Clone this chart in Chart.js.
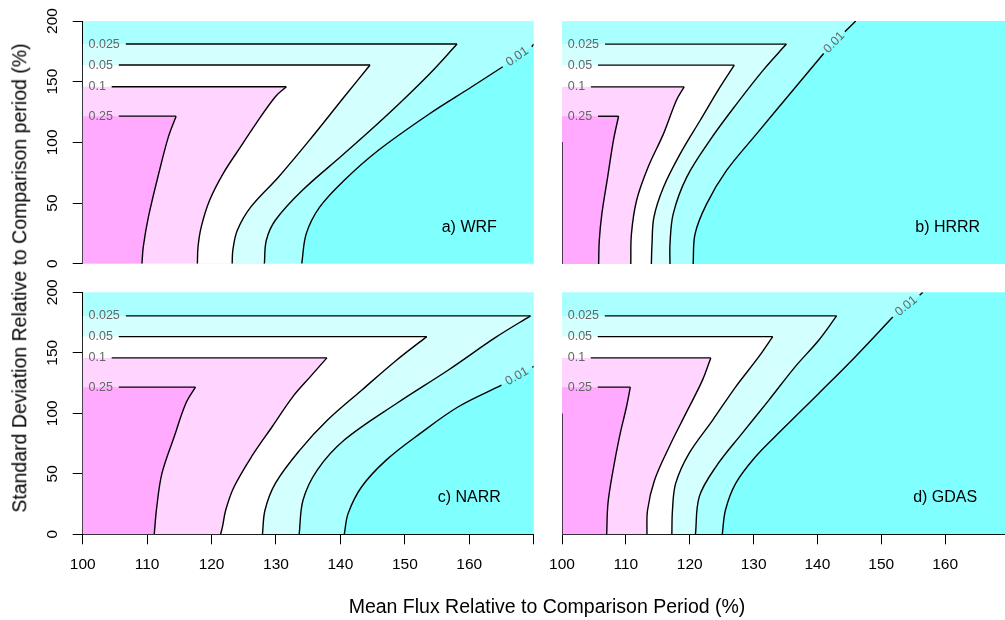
<!DOCTYPE html>
<html>
<head>
<meta charset="utf-8">
<script src="https://cdn.jsdelivr.net/npm/chart.js@4.4.1/dist/chart.umd.min.js"></script>
<style>
  body { margin: 0; width: 1005px; height: 620px; overflow: hidden; background: #fff; position: relative;
         font-family: "Liberation Sans", Arial, sans-serif; }
  canvas { position: absolute; }
  .title { position: absolute; white-space: nowrap; font-size: 19.5px; line-height: 1; color: #000; }
  #ytitle { left: 20px; top: 278px; transform: translate(-50%, -50%) rotate(-90deg); }
  #xtitle { left: 547px; top: 607px; transform: translate(-50%, -50%); }
</style>
</head>
<body>
<canvas id="panelA" width="560" height="280" style="left:0;top:0"></canvas>
<canvas id="panelB" width="490" height="280" style="left:530px;top:0"></canvas>
<canvas id="panelC" width="560" height="350" style="left:0;top:270px"></canvas>
<canvas id="panelD" width="490" height="350" style="left:530px;top:270px"></canvas>
<div class="title" id="ytitle">Standard Deviation Relative to Comparison period (%)</div>
<div class="title" id="xtitle">Mean Flux Relative to Comparison Period (%)</div>
<script>
// contour levels, inner to outer
const levels = ['0.25', '0.1', '0.05', '0.025', '0.01'];

// contours: [mean flux %, std dev %], from the bottom up to the corner
const wrf25  = [[109.2,0],[109.4,13.8],[110.2,38.5],[111.8,74.3],[113.3,104.5],[114.5,121.6]];
const wrf10  = [[117.8,0],[117.9,13.8],[118.4,30.3],[119.7,52.3],[121.8,74.3],[124.5,96.3],[126.9,115.5],[129.9,137.6],[131.6,145.8]];
const wrf05  = [[123.2,0],[123.3,11],[124.0,27.5],[126.1,46.8],[130.4,71.5],[135.2,101.8],[140.6,137.6],[144.6,163.7]];
const wrf025 = [[128.2,0],[128.5,19.3],[129.9,35.8],[134.1,60.5],[140.6,90.8],[147.5,123.8],[153.9,156.8],[158.1,181.0]];
const wrf01  = [[134.0,0],[134.7,24.8],[136.8,46.8],[140.6,68.8],[145.9,93.5],[153.9,123.8],[160.4,145.8],[165.2,162.3]];
const wrf01b = [[169.7,178.8],[170,181]];

const hrrr25  = [[105.7,0],[105.8,19.3],[106.2,41.3],[107.1,71.5],[108.0,101.8],[108.8,121.6]];
const hrrr10  = [[110.7,0],[110.8,24.8],[111.6,52.3],[113.4,79.8],[115.8,107.3],[117.8,134.8],[119.0,145.8]];
const hrrr05  = [[113.9,0],[114.0,16.5],[114.3,38.5],[115.8,63.3],[118.4,90.8],[121.5,118.3],[124.6,145.8],[126.8,163.7]];
const hrrr025 = [[116.8,0],[116.8,16.5],[117.3,41.3],[119.4,71.5],[123.0,101.8],[127.2,132.0],[131.3,159.6],[134.9,181.0]];
const hrrr01  = [[120.4,0],[120.7,24.8],[122.5,49.5],[125.6,77.0],[130.3,107.3],[135.5,140.3],[140.7,173.3]];
const hrrr01b = [[144.0,191.2],[145.7,200]];
const hrrrEdge = [[100,0],[100,100.4]];

const narr25  = [[111.1,0],[111.5,22.8],[112.3,50.3],[114.2,80.6],[116.0,108.1],[117.5,121.6]];
const narr10  = [[121.4,0],[121.7,6.3],[122.2,20.1],[123.5,39.3],[126.2,64.1],[129.4,88.9],[132.6,113.6],[135.3,130.1],[137.9,145.8]];
const narr05  = [[127.9,0],[128.3,20.1],[129.9,42.1],[133.7,69.6],[138.0,94.4],[143.3,119.1],[148.7,143.9],[153.4,163.4]];
const narr025 = [[133.6,0],[134.2,28.3],[136.4,53.1],[140.6,77.9],[148.7,108.1],[156.7,135.6],[164.2,163.1],[169.5,180.5]];
const narr01  = [[140.6,0],[141.2,17.3],[143.3,39.3],[147.1,61.3],[152.4,83.4],[158.3,105.4],[165.0,123.2]];
const narr01b = [[169.8,137.8],[170,139]];

const gdas25  = [[107.0,0],[107.2,25.6],[108.0,53.1],[109.0,80.6],[110.1,105.4],[110.7,121.6]];
const gdas10  = [[113.3,0],[113.4,20.1],[114.5,44.8],[116.8,72.4],[119.4,99.9],[122.0,127.4],[123.3,145.8]];
const gdas05  = [[117.2,0],[117.3,20.1],[117.8,42.1],[119.9,66.9],[123.6,94.4],[127.2,121.9],[130.8,146.6],[133.0,163.4]];
const gdas025 = [[120.9,0],[121.5,31.1],[124.1,55.8],[128.2,83.4],[132.4,110.9],[136.5,138.4],[140.2,160.4],[143.0,180.5]];
const gdas01  = [[125.1,0],[125.6,20.1],[127.2,42.1],[130.3,64.1],[134.4,86.1],[140.2,116.4],[145.9,146.6],[151.8,179.6]];
const gdas01b = [[156.0,197.5],[156.5,200]];
const gdasEdge = [[100,0],[100,99.9]];

const xTicks = [100, 110, 120, 130, 140, 150, 160, 170];
const yTicks = [0, 50, 100, 150, 200];

// fill for the area inside each level (last one = beyond 0.01), plus the in-between colour
const fillColors = ['#FFAAFF', '#FFD4FF', '#FFFFFF', '#D4FFFF', '#80FFFF'];
const bgColor = '#AAFFFF';
// where each horizontal contour segment resumes after its label
const lineStart = [105.6, 104.5, 105.6, 106.7];
const labelX = 100.9;
const TENSION = 0.35;
const FONT = '"Liberation Sans", Arial, sans-serif';
Chart.defaults.font.family = FONT;

const panels = [
  { id: 'panelA', name: 'a) WRF',  curves: [wrf25, wrf10, wrf05, wrf025],   outer: [wrf01, wrf01b],   edge: null,
    showX: false, showY: true,  pad: { left: 0,  top: 21,   right: 26.3, bottom: 16 } },
  { id: 'panelB', name: 'b) HRRR', curves: [hrrr25, hrrr10, hrrr05, hrrr025], outer: [hrrr01, hrrr01b], edge: hrrrEdge,
    showX: false, showY: false, pad: { left: 32, top: 21,   right: 8,    bottom: 16 } },
  { id: 'panelC', name: 'c) NARR', curves: [narr25, narr10, narr05, narr025], outer: [narr01, narr01b], edge: null,
    showX: true,  showY: true,  pad: { left: 0,  top: 22.3, right: 26.3, bottom: 45.7 } },
  { id: 'panelD', name: 'd) GDAS', curves: [gdas25, gdas10, gdas05, gdas025], outer: [gdas01, gdas01b], edge: gdasEdge,
    showX: true,  showY: false, pad: { left: 32, top: 22.3, right: 8,    bottom: 45.7 } }
];

const xMin = xTicks[0], xMax = xTicks[xTicks.length - 1];
const yMin = yTicks[0], yMax = yTicks[yTicks.length - 1];

function pts(arr) { return arr.map(p => ({ x: p[0], y: p[1] })); }
const first = a => a[0];
const last = a => a[a.length - 1];

// repeating a vertex keeps the spline corner sharp there
function area(arr, color) {
  return { data: pts(arr), backgroundColor: color, borderColor: 'transparent', borderWidth: 0,
           fill: 'shape', tension: TENSION, pointRadius: 0 };
}
function line(arr, tension) {
  return { data: pts(arr), borderColor: '#000', borderWidth: 1.4, fill: false, tension: tension, pointRadius: 0 };
}

function buildDatasets(p) {
  const ds = [];
  const [o1, o2] = p.outer;
  // region beyond the 0.01 contour
  const outer = [first(o1)].concat(o1, [last(o1), first(o2)], o2, [last(o2)]);
  if (last(o2)[1] >= yMax) outer.push([xMax, yMax], [xMax, yMax]);
  outer.push([xMax, yMin], [xMax, yMin], first(o1));
  ds.push(area(outer, fillColors[4]));
  // nested regions, widest first
  for (let i = 3; i >= 0; i--) {
    const c = p.curves[i];
    const apex = last(c);
    ds.push(area([[xMin, yMin], first(c)].concat(c, [apex, [xMin, apex[1]]]), fillColors[i]));
  }
  // contour lines
  p.curves.forEach((c, i) => {
    const apex = last(c);
    ds.push(line(c, TENSION));
    ds.push(line([apex, [lineStart[i], apex[1]]], 0));
  });
  ds.push(line(o1, TENSION));
  ds.push(line(o2, 0));
  if (p.edge) ds.push(line(p.edge, 0));
  // paint in array order
  ds.forEach((d, i) => { d.order = ds.length - i; });
  return ds;
}

function labelPlugin(p) {
  return {
    id: 'labels_' + p.id,
    beforeDraw(chart) {
      const { ctx, chartArea: a } = chart;
      ctx.save();
      ctx.fillStyle = bgColor;
      ctx.fillRect(a.left, a.top, a.right - a.left, a.bottom - a.top);
      ctx.restore();
    },
    afterDatasetsDraw(chart) {
      const { ctx, scales: { x, y } } = chart;
      ctx.save();
      ctx.font = '12.5px ' + FONT;
      ctx.fillStyle = '#666';
      ctx.textBaseline = 'middle';
      ctx.textAlign = 'left';
      p.curves.forEach((c, i) => {
        ctx.fillText(levels[i], x.getPixelForValue(labelX), y.getPixelForValue(last(c)[1]));
      });
      const a = last(p.outer[0]), b = first(p.outer[1]);
      const ax = x.getPixelForValue(a[0]), ay = y.getPixelForValue(a[1]);
      const bx = x.getPixelForValue(b[0]), by = y.getPixelForValue(b[1]);
      ctx.translate((ax + bx) / 2, (ay + by) / 2);
      ctx.rotate(Math.atan2(by - ay, bx - ax));
      ctx.textAlign = 'center';
      ctx.fillText(levels[4], 0, 0);
      ctx.restore();

      ctx.save();
      ctx.font = '16px ' + FONT;
      ctx.fillStyle = '#000';
      ctx.textAlign = 'center';
      ctx.textBaseline = 'middle';
      ctx.fillText(p.name, x.getPixelForValue(160), y.getPixelForValue(30));
      ctx.restore();
    }
  };
}

panels.forEach(p => {
  new Chart(document.getElementById(p.id), {
    type: 'line',
    data: { datasets: buildDatasets(p) },
    plugins: [labelPlugin(p)],
    options: {
      responsive: false,
      animation: false,
      events: [],
      layout: { padding: p.pad, autoPadding: false },
      plugins: { legend: { display: false }, tooltip: { enabled: false } },
      scales: {
        x: {
          type: 'linear', min: xMin, max: xMax, display: p.showX, z: 1,
          border: { display: true, color: '#000', width: 1 },
          grid: { drawOnChartArea: false, drawTicks: true, tickLength: 10, color: '#000', lineWidth: 1 },
          afterBuildTicks: s => { s.ticks = xTicks.map(v => ({ value: v })); },
          ticks: { color: '#000', padding: 11, maxRotation: 0, autoSkip: false, font: { size: 15.5 },
                   callback: v => (v === xMax ? '' : v) },
          afterFit: s => { if (p.showX) s.height = 40; }
        },
        y: {
          type: 'linear', min: yMin, max: yMax, display: p.showY, z: 1,
          border: { display: true, color: '#000', width: 1 },
          grid: { drawOnChartArea: false, drawTicks: true, tickLength: 10, color: '#000', lineWidth: 1 },
          afterBuildTicks: s => { s.ticks = yTicks.map(v => ({ value: v })); },
          ticks: { color: '#000', padding: 7, minRotation: 90, maxRotation: 90, crossAlign: 'center',
                   font: { size: 15.5 } },
          afterFit: s => { if (p.showY) s.width = 82.7; }
        }
      }
    }
  });
});
</script>
</body>
</html>
